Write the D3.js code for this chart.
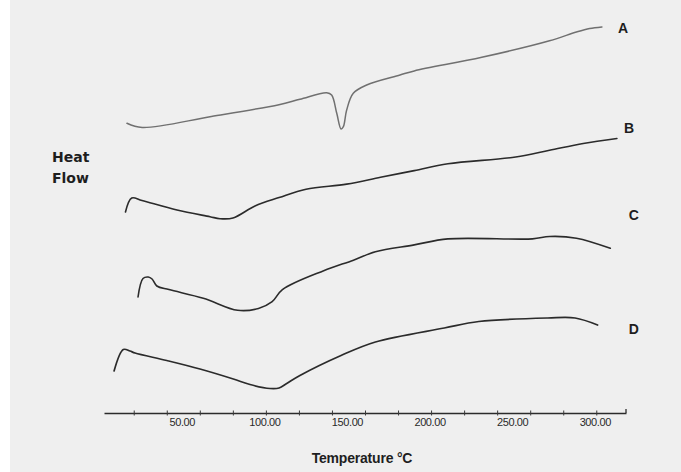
<!DOCTYPE html>
<html>
<head>
<meta charset="utf-8">
<script src="https://cdn.jsdelivr.net/npm/d3@7"></script>
<style>
  html, body { margin: 0; padding: 0; background: #ffffff; }
  #chart { width: 681px; height: 472px; }
</style>
</head>
<body>
<div id="chart"></div>
<script>
// DSC thermograms, temperature in °C against heat flow (arbitrary offsets)
const seriesNames = ['A', 'B', 'C', 'D']

const curveA = [
  [15.9, 289.7], [25.1, 285.5], [67, 296.5], [107.9, 308.3], [120.6, 313.7],
  [136.8, 320.3], [139.8, 318], [142.9, 299.7], [145.5, 284], [146.9, 286.3],
  [148.9, 303], [152.9, 319.7], [161, 328], [181.2, 338], [189.8, 342.1],
  [230.7, 355.7], [271.7, 372.2], [288, 381], [296, 384.5], [303.4, 386.1]
]
const curveB = [
  [15, 201], [18.8, 215], [25, 212.5], [46.2, 203], [66.2, 196.3],
  [72.2, 194.3], [80.1, 195], [93.4, 207], [108, 215.4], [124.3, 223.8],
  [148.9, 228.9], [169.4, 235.7], [189.8, 242.4], [210.2, 249.2],
  [251.2, 256], [271.7, 262.7], [292.1, 269.5], [312.5, 274.5]
]
const curveC = [
  [22.6, 116], [25.6, 134.5], [28.8, 136], [31.1, 134], [34, 127],
  [41.3, 123.4], [62.1, 114.8], [82.9, 102.7], [95.5, 104.5], [103.8, 111.3],
  [110, 123.4], [135, 142.3], [153, 152.8], [166.3, 161.3], [189.8, 168.1],
  [210.2, 174.1], [261.4, 174.1], [271.7, 176.5], [288, 174.8], [308.5, 164.7]
]
const curveD = [
  [8.1, 42], [13.7, 63.5], [17.7, 62], [20.8, 60], [40, 52.5], [60.1, 44],
  [80.3, 34], [90.4, 28.5], [102.5, 24.5], [108, 25], [112.6, 29.5],
  [120.6, 37.5], [145.5, 57.5], [166.3, 71], [208, 85], [228.9, 91.5],
  [270.6, 95], [287.2, 95], [300.8, 88]
]

const tickLabels = [50, 100, 150, 200, 250, 300]
const minorTicks = [20, 40, 60, 80, 100, 120, 140, 160, 180, 200, 220, 240, 260, 280, 300]

const width = 681
const height = 472

const svg = d3.select('#chart').append('svg')
  .attr('width', width)
  .attr('height', height)

// scanned page background
svg.append('rect').attr('width', width).attr('height', height).attr('fill', '#ffffff')
svg.append('rect')
  .attr('x', 10).attr('y', 0)
  .attr('width', width - 10).attr('height', height)
  .attr('fill', '#efefef')

// scales
const x = d3.scaleLinear().domain([2, 318]).range([104, 626])
const y = d3.scaleLinear().domain([0, 400]).range([413, 13])

const line = d3.line()
  .x(d => x(d[0]))
  .y(d => y(d[1]))
  .curve(d3.curveCatmullRom.alpha(0.5))

const curves = [curveA, curveB, curveC, curveD]
const strokes = ['#707070', '#2b2b2b', '#2b2b2b', '#2b2b2b']
const widths = [1.5, 1.6, 1.6, 1.7]

svg.selectAll('path.trace')
  .data(curves)
  .join('path')
  .attr('class', 'trace')
  .attr('d', line)
  .attr('fill', 'none')
  .attr('stroke', (d, i) => strokes[i])
  .attr('stroke-width', (d, i) => widths[i])
  .attr('stroke-linejoin', 'round')
  .attr('stroke-linecap', 'round')

// curve letters
const labelPos = { A: [316.2, 385], B: [319.8, 285], C: [322.8, 198], D: [322.8, 84] }
svg.selectAll('text.series')
  .data(seriesNames)
  .join('text')
  .attr('class', 'series')
  .attr('x', d => x(labelPos[d][0]))
  .attr('y', d => y(labelPos[d][1]))
  .attr('text-anchor', 'middle')
  .attr('dominant-baseline', 'central')
  .attr('font-family', 'Liberation Sans, Arial, sans-serif')
  .attr('font-weight', 'bold')
  .attr('font-size', 14)
  .attr('fill', '#1e1e1e')
  .text(d => d)

// x axis: minor crossing ticks, labels placed separately
const axis = svg.append('g').attr('transform', `translate(0,${y(0)})`)
axis.call(d3.axisBottom(x).tickValues(minorTicks).tickSizeOuter(0).tickFormat(''))
axis.select('.domain').attr('stroke', '#2b2b2b').attr('stroke-width', 1.3)
axis.selectAll('.tick line')
  .attr('y1', -2.5).attr('y2', 2.5)
  .attr('stroke', '#3a3a3a')
// small upturn at the end of the axis
axis.append('path')
  .attr('d', `M${x(318)},0 V-4`)
  .attr('stroke', '#2b2b2b')
  .attr('stroke-width', 1.3)

axis.selectAll('text.lbl')
  .data(tickLabels)
  .join('text')
  .attr('class', 'lbl')
  .attr('x', d => x(d) - 1)
  .attr('y', 13)
  .attr('text-anchor', 'middle')
  .attr('font-family', 'Liberation Sans, Arial, sans-serif')
  .attr('font-size', 11)
  .attr('letter-spacing', -0.4)
  .attr('fill', '#2a2a2a')
  .text(d => d3.format('.2f')(d))

// axis titles
svg.append('text')
  .attr('x', 362)
  .attr('y', 463)
  .attr('text-anchor', 'middle')
  .attr('font-family', 'Liberation Sans, Arial, sans-serif')
  .attr('font-weight', 'bold')
  .attr('font-size', 14)
  .attr('letter-spacing', -0.2)
  .attr('fill', '#1e1e1e')
  .text('Temperature °C')

const yTitle = svg.append('text')
  .attr('font-family', 'DejaVu Sans, sans-serif')
  .attr('font-weight', 'bold')
  .attr('font-size', 14)
  .attr('fill', '#1e1e1e')
yTitle.append('tspan').attr('x', 52).attr('y', 162).text('Heat')
yTitle.append('tspan').attr('x', 52).attr('y', 183).text('Flow')
</script>
</body>
</html>
